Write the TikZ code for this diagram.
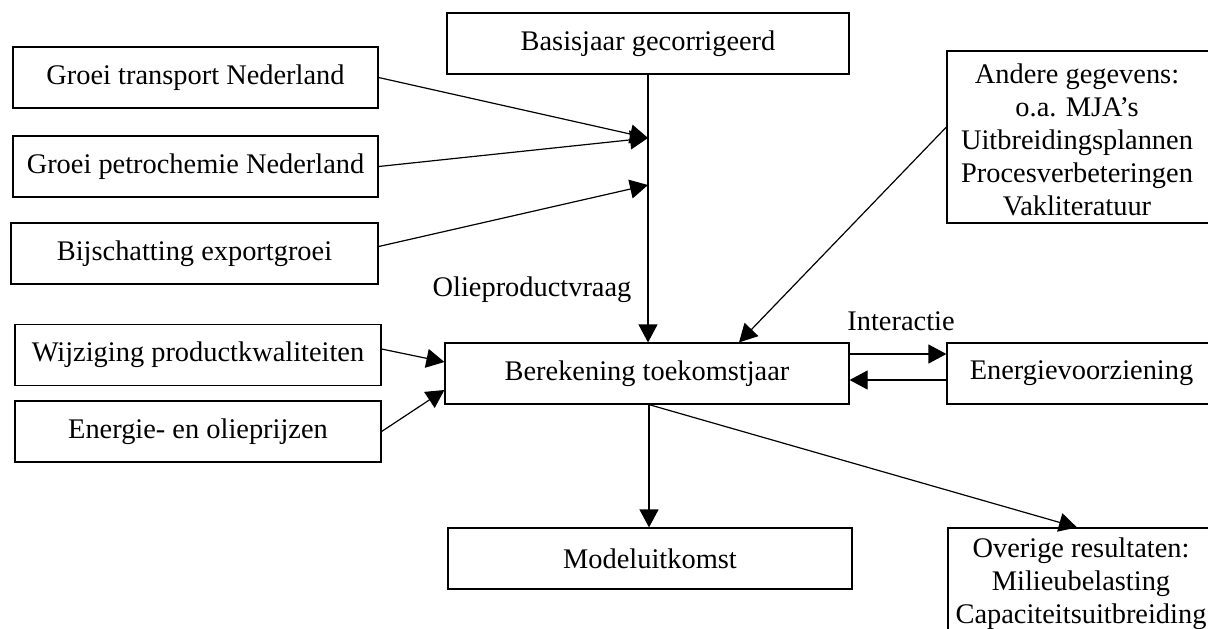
\documentclass[tikz,border=0pt]{standalone}
\usepackage{fontspec}
\setmainfont{Liberation Serif}
\usepackage{tikz}
\usetikzlibrary{arrows.meta}

\tikzset{
  box/.style={draw,line width=0.6pt,minimum height=30.5pt,inner sep=0pt,align=center},
  flow/.style={line width=0.6pt,-{Triangle[length=9pt,width=9.5pt]}},
}

\begin{document}
\begin{tikzpicture}[x=0.5pt,y=-0.5pt,font=\fontsize{14.2}{16.5}\selectfont]
\useasboundingbox (0,0) rectangle (1208,628);
% left inputs
\node[box,minimum width=182.5pt](trans) at (195.5,77.5){Groei transport Nederland};
\node[box,minimum width=182.5pt](petro) at (195.5,166.5){Groei petrochemie Nederland};
\node[box,minimum width=183.5pt](export) at (194.5,253.5){Bijschatting exportgroei};
\node[box,minimum width=183pt](wijz) at (198,355){Wijziging productkwaliteiten};
\node[box,minimum width=183pt](prijs) at (198,431.5){Energie- en olieprijzen};
% middle column
\node[box,minimum width=201pt](basis) at (648,43.5){Basisjaar gecorrigeerd};
\node[box,minimum width=202pt](berek) at (647,373.5){Berekening toekomstjaar};
\node[box,minimum width=202pt](model) at (650,558.5){Modeluitkomst};
% right column
\node[box,minimum width=134pt,minimum height=86pt](andere) at (1081,137){};
\node[align=center](anderetxt) at (1077,140){Andere gegevens:\\o.a. MJA’s\\Uitbreidingsplannen\\Procesverbeteringen\\Vakliteratuur};
\node[box,minimum width=134.5pt](voorz) at (1081.5,373.5){Energievoorziening};
\node[box,minimum width=133pt,minimum height=56pt](overige) at (1081,584){Overige resultaten:\\Milieubelasting\\Capaciteitsuitbreiding};
% labels
\node(vraag) at (532,290){Olieproductvraag};
\node(inter) at (901,321){Interactie};
% connectors
\coordinate (j1) at (648,138);
\coordinate (j2) at (648,185);
\draw[flow] (basis.south) -- (basis.south |- berek.north);
\draw[flow] (trans.east) -- (j1);
\draw[flow] (petro.east) -- (j1);
\draw[flow] ([yshift=3.5pt]export.east) -- (j2);
\draw[flow] ([yshift=3pt]wijz.east) -- ([yshift=5.75pt]berek.west);
\draw[flow] (prijs.east) -- ([yshift=-8.25pt]berek.west);
\draw[flow] ([yshift=5pt]andere.west) -- ([xshift=46pt]berek.north);
\draw[flow] ([yshift=9.75pt]berek.east) -- ([yshift=9.75pt]berek.east -| voorz.west);
\draw[flow] ([yshift=-3.25pt]voorz.west) -- ([yshift=-3.25pt]voorz.west -| berek.east);
\draw[flow] ([xshift=1pt]berek.south) -- ([xshift=1pt]berek.south |- model.north);
\draw[flow] ([xshift=1pt]berek.south) -- ([xshift=-2pt]overige.north);
\end{tikzpicture}
\end{document}
